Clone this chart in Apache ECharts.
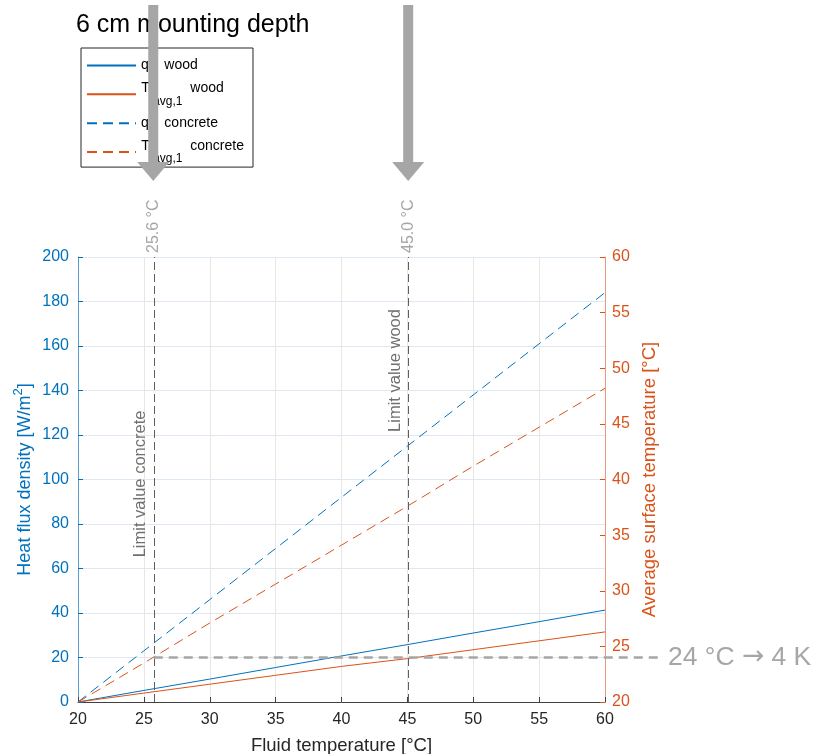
<!DOCTYPE html>
<html>
<head>
<meta charset="utf-8">
<script src="https://cdn.jsdelivr.net/npm/echarts@6/dist/echarts.min.js"></script>
<style>
html,body{margin:0;padding:0;background:#fff;}
#chart{width:819px;height:754px;}
</style>
</head>
<body>
<div id="chart"></div>
<script>
// ---- data ----
const fluidTemp   = [20, 25, 30, 35, 40, 45, 50, 55, 60];
const qWood       = [0, 5.2, 10.3, 15.5, 20.7, 25.8, 31.0, 36.1, 41.3];
const tWood       = [20, 20.8, 21.6, 22.4, 23.2, 23.9, 24.7, 25.5, 26.3];
const qConcrete   = [0, 23, 46, 69, 92, 115, 138, 161, 184];
const tConcrete   = [20, 23.5, 27.1, 30.6, 34.1, 37.6, 41.2, 44.7, 48.2];
const limitX      = [25.75, 45.1];
const limitTempLabels = ['25.6 °C', '45.0 °C'];
const limitNames  = ['Limit value concrete', 'Limit value wood'];
const limitNameY  = [98, 149];
const thresholdTemp = 24;
const thresholdLabel = ['24 °C', '\u2192', '4 K'];
const titleText = '6 cm mounting depth';

const FONT = "'Liberation Sans', Arial, sans-serif";
const BLUE = '#0072BD';
const ORANGE = '#D95319';

const zip = (xs, ys) => xs.map((x, i) => [x, ys[i]]);

const chart = echarts.init(document.getElementById('chart'), null, {renderer: 'canvas'});

const legendRich = {
  n:   {fontSize: 14, lineHeight: 26, color: '#000', fontFamily: FONT, verticalAlign: 'middle'},
  n2:  {fontSize: 14, lineHeight: 18, color: '#000', fontFamily: FONT, verticalAlign: 'top'},
  sub: {fontSize: 12, lineHeight: 16, color: '#000', fontFamily: FONT, verticalAlign: 'bottom'},
  h:   {fontSize: 1, lineHeight: 26}
};
const legendFmt = {
  'q wood': '{n|q}{n|    wood}',
  'T wood': '{h| }{n2|T}{sub| avg,1}{n2|  wood}',
  'q concrete': '{n|q}{n|    concrete}',
  'T concrete': '{h| }{n2|T}{sub| avg,1}{n2|  concrete}'
};

const lineSeries = (name, ys, yIdx, color, dashed, extra) => Object.assign({
  name: name,
  type: 'line',
  xAxisIndex: 0,
  yAxisIndex: yIdx,
  data: zip(fluidTemp, ys),
  symbol: 'none',
  showSymbol: false,
  color: color,
  lineStyle: {color: color, width: 1, type: dashed ? [10, 6] : 'solid'},
  silent: true,
  animation: false
}, extra || {});

const option = {
  animation: false,
  textStyle: {fontFamily: FONT},
  title: {
    text: titleText, left: 76, top: 13, padding: 0,
    textStyle: {fontSize: 25, fontWeight: 'normal', color: '#000', fontFamily: FONT}
  },
  legend: {
    orient: 'vertical', left: 81, top: 48,
    padding: [7, 9, 2, 5], itemGap: 5.5, itemWidth: 49, itemHeight: 26,
    borderColor: '#262626', borderWidth: 1, backgroundColor: '#fff',
    selectedMode: false,
    itemStyle: {opacity: 0, borderWidth: 0},
    data: ['q wood', 'T wood', 'q concrete', 'T concrete'],
    formatter: name => legendFmt[name],
    textStyle: {rich: legendRich, fontFamily: FONT}
  },
  grid: {left: 78, right: 214, top: 257, bottom: 52, containLabel: false, outerBoundsMode: 'none'},
  xAxis: {
    type: 'value', min: 20, max: 60, interval: 5,
    name: 'Fluid temperature [°C]', nameLocation: 'middle', nameGap: 34,
    nameTextStyle: {fontSize: 18.5, color: '#262626', fontFamily: FONT},
    axisLine: {show: true, onZero: false, lineStyle: {color: '#404040', width: 1}},
    axisTick: {show: true, inside: true, length: 5, lineStyle: {color: '#404040'}},
    axisLabel: {fontSize: 16, color: '#262626', margin: 10, fontFamily: FONT},
    splitLine: {show: true, lineStyle: {color: '#e6e6e6', width: 1}}
  },
  yAxis: [
    {
      type: 'value', position: 'left', min: 0, max: 200, interval: 20,
      name: '{a|Heat flux density [W/m}{s|2}{a|]}', nameLocation: 'middle', nameGap: 44, nameRotate: 90,
      nameMoveOverlap: false,
      nameTextStyle: {
        color: BLUE, fontFamily: FONT,
        rich: {
          a: {fontSize: 18, color: BLUE, fontFamily: FONT, lineHeight: 22, verticalAlign: 'bottom'},
          s: {fontSize: 13, color: BLUE, fontFamily: FONT, lineHeight: 22, verticalAlign: 'top'}
        }
      },
      axisLine: {show: true, lineStyle: {color: '#5a9fd4', width: 1}},
      axisTick: {show: true, inside: true, length: 5, lineStyle: {color: BLUE}},
      axisLabel: {fontSize: 16, color: BLUE, margin: 9, fontFamily: FONT},
      splitLine: {show: true, lineStyle: {color: '#dde8f2', width: 1}}
    },
    {
      type: 'value', position: 'right', min: 20, max: 60, interval: 5,
      name: 'Average surface temperature [°C]', nameLocation: 'middle', nameGap: 35, nameRotate: 90,
      nameTextStyle: {fontSize: 18.5, color: ORANGE, fontFamily: FONT},
      axisLine: {show: true, lineStyle: {color: '#e89a78', width: 1}},
      axisTick: {show: true, inside: true, length: 5, lineStyle: {color: ORANGE}},
      axisLabel: {fontSize: 16, color: ORANGE, margin: 7, fontFamily: FONT},
      splitLine: {show: false}
    }
  ],
  series: [
    lineSeries('q wood', qWood, 0, BLUE, false, {
      markLine: {
        silent: true, animation: false, symbol: ['none', 'none'],
        label: {show: false},
        lineStyle: {color: '#5e5e5e', width: 1, type: [8, 4]},
        data: limitX.map(x => [{coord: [x, 0]}, {coord: [x, 200]}])
      }
    }),
    lineSeries('T wood', tWood, 1, ORANGE, false),
    lineSeries('q concrete', qConcrete, 0, BLUE, true),
    lineSeries('T concrete', tConcrete, 1, ORANGE, true)
  ]
};

chart.setOption(option);

// ---- annotations positioned through the axes ----
const px  = x => chart.convertToPixel({xAxisIndex: 0}, x);
const pyL = v => chart.convertToPixel({yAxisIndex: 0}, v);
const pyR = v => chart.convertToPixel({yAxisIndex: 1}, v);
const gridTop = pyL(200);
const gridRight = px(60);
const gfx = [];

limitX.forEach((x, i) => {
  const cx = px(x) - 0.5;
  gfx.push({
    type: 'polygon', z: 100, silent: true,
    shape: {points: [[cx - 5, 5], [cx + 5, 5], [cx + 5, 162], [cx + 16, 162], [cx, 181], [cx - 16, 162], [cx - 5, 162]]},
    style: {fill: '#a6a6a6'}
  });
  gfx.push({
    type: 'text', z: 60, silent: true,
    x: px(x), y: gridTop - 4, rotation: Math.PI / 2,
    style: {text: limitTempLabels[i], fontSize: 16, fill: '#a6a6a6', fontFamily: FONT, align: 'left', verticalAlign: 'middle'}
  });
  gfx.push({
    type: 'text', z: 60, silent: true,
    x: px(x) - 13, y: pyL(limitNameY[i]), rotation: Math.PI / 2,
    style: {text: limitNames[i], fontSize: 16.5, fill: '#707070', fontFamily: FONT, align: 'center', verticalAlign: 'middle'}
  });
});

const ty = pyR(thresholdTemp);
gfx.push({
  type: 'line', z: 60, silent: true,
  shape: {x1: px(limitX[0]), y1: ty, x2: gridRight + 54, y2: ty},
  style: {stroke: '#a6a6a6', lineWidth: 2.5, lineDash: [9, 6]}
});
gfx.push({
  type: 'text', z: 60, silent: true,
  x: gridRight + 63, y: ty,
  style: {
    text: '{a|' + thresholdLabel[0] + ' }{b|' + thresholdLabel[1] + '}{a| ' + thresholdLabel[2] + '}',
    fill: '#a6a6a6', align: 'left', verticalAlign: 'middle',
    rich: {
      a: {fontSize: 26.5, fill: '#a6a6a6', fontFamily: FONT, lineHeight: 30},
      b: {fontSize: 26.5, fill: '#a6a6a6', fontFamily: "'DejaVu Sans'", lineHeight: 30}
    }
  }
});

chart.setOption({graphic: gfx});
</script>
</body>
</html>
